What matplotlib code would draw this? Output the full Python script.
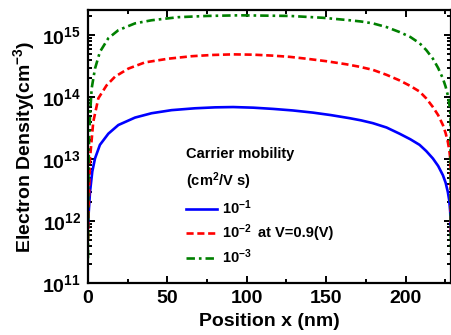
import matplotlib
matplotlib.use("Agg")
import matplotlib.pyplot as plt
import numpy as np
from matplotlib.ticker import LogLocator, MultipleLocator, FixedLocator, NullFormatter

plt.rcParams['font.family'] = ['Liberation Sans', 'DejaVu Sans']
plt.rcParams['font.weight'] = 'bold'
plt.rcParams['mathtext.fontset'] = 'custom'
plt.rcParams['mathtext.rm'] = 'Liberation Sans:bold'
plt.rcParams['mathtext.it'] = 'Liberation Sans:bold'
plt.rcParams['mathtext.bf'] = 'Liberation Sans:bold'
plt.rcParams['mathtext.sf'] = 'Liberation Sans:bold'

# Data (x in nm, log10 of electron density in cm^-3)
x_blue = [0, 0.2, 1.26, 2.7, 4.4, 7.5, 12.8, 19.1, 29.6, 40, 52.6, 67.3, 80, 91.4,
          104, 116.6, 129, 141.7, 153, 164.8, 172, 179.4, 188, 196.2, 203, 208.8,
          213, 217.2, 220.5, 223.5, 225.2, 226.6, 227.5, 228.1, 228.5]
lg_blue = [11.9, 12.04, 12.47, 12.80, 13.01, 13.23, 13.41, 13.55, 13.67, 13.74, 13.79,
           13.82, 13.835, 13.84, 13.83, 13.81, 13.785, 13.75, 13.71, 13.66, 13.625,
           13.58, 13.51, 13.41, 13.32, 13.23, 13.13, 13.01, 12.89, 12.74, 12.62, 12.47,
           12.33, 12.15, 11.8]

x_red = [0, 0.3, 1.26, 3.3, 6.5, 11.7, 17, 25.4, 35.8, 50.5, 65.2, 78, 91.2, 104,
         116, 127, 137.5, 150, 162.7, 171, 179.4, 188, 196.2, 203, 208.8, 213, 217.2,
         220.5, 223.5, 225.2, 226.6, 227.6, 228.3, 228.5]
lg_red = [11.7, 12.1, 13.01, 13.60, 13.98, 14.19, 14.33, 14.46, 14.56, 14.62, 14.66,
          14.68, 14.69, 14.685, 14.67, 14.65, 14.62, 14.58, 14.53, 14.49, 14.44, 14.36,
          14.27, 14.18, 14.09, 13.98, 13.84, 13.71, 13.55, 13.42, 13.28, 13.13, 12.96, 11.8]

x_green = [0, 0.2, 0.6, 1.26, 2.3, 4.4, 7.5, 12.8, 19.1, 29.6, 40, 56.8, 75, 95.6,
           111, 127, 148, 164.8, 172, 179.4, 188, 196.2, 203, 208.8, 213, 217.2, 220.5,
           223.5, 225.2, 226.6, 227.6, 228.3, 228.5]
lg_green = [11.4, 12.53, 13.23, 13.71, 14.14, 14.46, 14.73, 14.95, 15.08, 15.19, 15.24,
            15.29, 15.31, 15.32, 15.315, 15.31, 15.28, 15.24, 15.22, 15.19, 15.13,
            15.05, 14.97, 14.87, 14.76, 14.62, 14.47, 14.30, 14.17, 14.03, 13.88, 13.71, 11.5]

labels = [r'$10^{-1}$', r'$10^{-2}$', r'$10^{-3}$']
colors = ['#0000ff', '#ff0000', '#008000']

fig = plt.figure(figsize=(4.52, 3.35), dpi=100)
ax = fig.add_axes([0.1947, 0.155, 0.8031, 0.8137])

lw = 1.9
ax.plot(x_blue, 10 ** np.array(lg_blue), color=colors[0], lw=lw, ls='-', label=labels[0])
ax.plot(x_red, 10 ** np.array(lg_red), color=colors[1], lw=lw, ls=(0, (2.7, 1.4)), label=labels[1])
ax.plot(x_green, 10 ** np.array(lg_green), color=colors[2], lw=lw, ls=(0, (3.2, 1.5, 1.0, 1.5)), label=labels[2])

ax.set_yscale('log')
ax.set_xlim(0, 228.6)
ax.set_ylim(1e11, 2.5e15)
ax.xaxis.set_major_locator(FixedLocator([0, 50, 100, 150, 200]))
ax.xaxis.set_minor_locator(MultipleLocator(25))
ax.yaxis.set_major_locator(LogLocator(base=10, numticks=10))
ax.yaxis.set_minor_locator(LogLocator(base=10, subs=np.arange(2, 10), numticks=20))
ax.yaxis.set_minor_formatter(NullFormatter())

for s in ax.spines.values():
    s.set_linewidth(1.6)
ax.tick_params(which='both', direction='in', top=True, right=True, width=1.4)
ax.tick_params(which='major', length=5, labelsize=14, pad=5)
ax.tick_params(which='minor', length=3)

ax.set_xlabel('Position x (nm)', fontsize=14, fontweight='bold', labelpad=4.5)
ax.set_ylabel(r'Electron Density(cm$^{-3}$)', fontsize=14, fontweight='bold', labelpad=4)

leg = ax.legend(loc='upper left', bbox_to_anchor=(0.27, 0.499), frameon=False,
                title='Carrier mobility\n(cm$^2$/V s)', fontsize=10.5,
                title_fontproperties={'size': 10.5, 'weight': 'bold'},
                handlelength=2.1, handletextpad=0.4, labelspacing=0.42, borderpad=0,
                borderaxespad=0)
leg._legend_box.align = 'left'
leg.get_title().set_linespacing(1.6)

ax.text(107, 10 ** 11.8, 'at V=0.9(V)', fontsize=10.5, fontweight='bold', va='center')

fig.savefig('out.png', dpi=100)
